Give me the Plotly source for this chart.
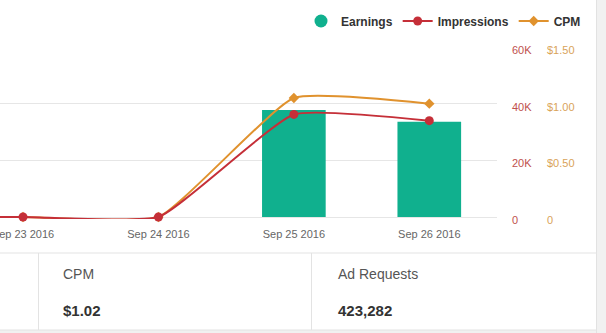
import plotly.graph_objects as go

dates = ["Sep 22 2016", "Sep 23 2016", "Sep 24 2016", "Sep 25 2016", "Sep 26 2016"]
earnings = [0, 0, 0, 37.8, 33.6]
impressions = [0, 0, 0, 36200, 34000]
cpm = [0, 0, 0, 1.05, 1.00]

imp_ticks = [0, 20000, 40000, 60000]
imp_labels = ["0", "20K", "40K", "60K"]
cpm_ticks = [0, 0.5, 1.0, 1.5]
cpm_labels = ["0", "$0.50", "$1.00", "$1.50"]
earn_ticks = [0, 20, 40, 60]

summary_labels = ["CPM", "Ad Requests"]
summary_values = ["$1.02", "423,282"]

GREEN = "#10b08e"
RED = "#c52f38"
ORANGE = "#e0922e"
FONT = "Liberation Sans, Arial, sans-serif"

W, H = 606, 333
px_x = lambda p: p / W
px_y = lambda p: 1 - p / H

top_px, bottom_px, zero_px = 47, 219, 217
frac_below = (bottom_px - zero_px) / (zero_px - top_px)

fig = go.Figure()

fig.add_trace(go.Bar(x=dates, y=earnings, name="Earnings", marker_color=GREEN,
                     marker_line_width=0, showlegend=False, legendgroup="e",
                     yaxis="y", width=0.47))
fig.add_trace(go.Scatter(x=[None], y=[None], mode="markers", name="Earnings",
                         marker=dict(symbol="circle", size=13, color=GREEN),
                         legendgroup="e", legendrank=1))
fig.add_trace(go.Scatter(x=dates, y=cpm, name="CPM", mode="lines+markers",
                         line=dict(color=ORANGE, width=2, shape="spline", smoothing=0.42),
                         marker=dict(symbol="diamond", size=8, color=ORANGE),
                         cliponaxis=False, yaxis="y2", legendrank=3))
fig.add_trace(go.Scatter(x=dates, y=impressions, name="Impressions", mode="lines+markers",
                         line=dict(color=RED, width=2, shape="spline", smoothing=0.42),
                         marker=dict(symbol="circle", size=9, color=RED),
                         cliponaxis=False, yaxis="y3", legendrank=2))

ydom = [px_y(bottom_px), px_y(top_px)]

shapes = [
    dict(type="rect", xref="paper", yref="paper", x0=px_x(597), x1=1, y0=0, y1=1,
         fillcolor="#f1f1f1", line_width=0, layer="below"),
    dict(type="line", xref="paper", yref="paper", x0=px_x(596.5), x1=px_x(596.5), y0=0, y1=1,
         line=dict(color="#e2e2e2", width=1)),
    dict(type="rect", xref="paper", yref="paper", x0=0, x1=px_x(597), y0=0, y1=px_y(330),
         fillcolor="#f1f1f1", line_width=0, layer="below"),
    dict(type="line", xref="paper", yref="paper", x0=0, x1=px_x(597), y0=px_y(253), y1=px_y(253),
         line=dict(color="#e3e3e3", width=1)),
    dict(type="line", xref="paper", yref="paper", x0=0, x1=px_x(597), y0=px_y(330), y1=px_y(330),
         line=dict(color="#e3e3e3", width=1)),
    dict(type="line", xref="paper", yref="paper", x0=px_x(38.5), x1=px_x(38.5), y0=px_y(330), y1=px_y(253),
         line=dict(color="#e3e3e3", width=1)),
    dict(type="line", xref="paper", yref="paper", x0=px_x(311.5), x1=px_x(311.5), y0=px_y(330), y1=px_y(253),
         line=dict(color="#e3e3e3", width=1)),
]

annotations = []
for lab, val, xp in zip(summary_labels, summary_values, [61, 336]):
    annotations.append(dict(text=lab, xref="paper", yref="paper", x=px_x(xp), y=px_y(274),
                            xanchor="left", yanchor="middle", showarrow=False,
                            font=dict(family=FONT, size=14, color="#555555")))
    annotations.append(dict(text="<b>" + val + "</b>", xref="paper", yref="paper", x=px_x(xp),
                            y=px_y(310), xanchor="left", yanchor="middle", showarrow=False,
                            font=dict(family=FONT, size=15, color="#333333")))

fig.update_layout(
    width=W, height=H, margin=dict(l=0, r=0, t=0, b=0, autoexpand=False),
    paper_bgcolor="white", plot_bgcolor="white",
    font=dict(family=FONT),
    bargap=0.53,
    xaxis=dict(domain=[0, px_x(497)], type="category", range=[0.83, 4.5],
               showgrid=False, zeroline=False, showline=False, ticks="", automargin=False,
               tickfont=dict(size=11, color="#666666"), ticklabelstandoff=7),
    yaxis=dict(domain=ydom, range=[-60 * frac_below, 60], tickvals=earn_ticks,
               showticklabels=False, showgrid=True, gridcolor="#e6e6e6", gridwidth=1,
               zeroline=False, showline=False, ticks="", automargin=False),
    yaxis2=dict(overlaying="y", side="right", anchor="free", position=px_x(546),
                range=[-1.5 * frac_below, 1.5], tickvals=cpm_ticks, ticktext=cpm_labels,
                showgrid=False, zeroline=False, showline=False, ticks="", automargin=False,
                tickfont=dict(size=11, color="#d9a35a"), ticklabelshift=3),
    yaxis3=dict(overlaying="y", side="right", anchor="x",
                range=[-60000 * frac_below, 60000], tickvals=imp_ticks, ticktext=imp_labels,
                showgrid=False, zeroline=False, showline=False, ticks="", automargin=False,
                tickfont=dict(size=11, color="#c0504d"), ticklabelstandoff=14,
                ticklabelshift=3),
    legend=dict(orientation="h", x=px_x(586), xanchor="right", y=px_y(21), yanchor="middle",
                font=dict(size=12, color="#333333", family=FONT, weight="bold"),
                bgcolor="rgba(0,0,0,0)", itemwidth=30, traceorder="normal"),
    shapes=shapes, annotations=annotations,
)

fig.write_html("out.html")
